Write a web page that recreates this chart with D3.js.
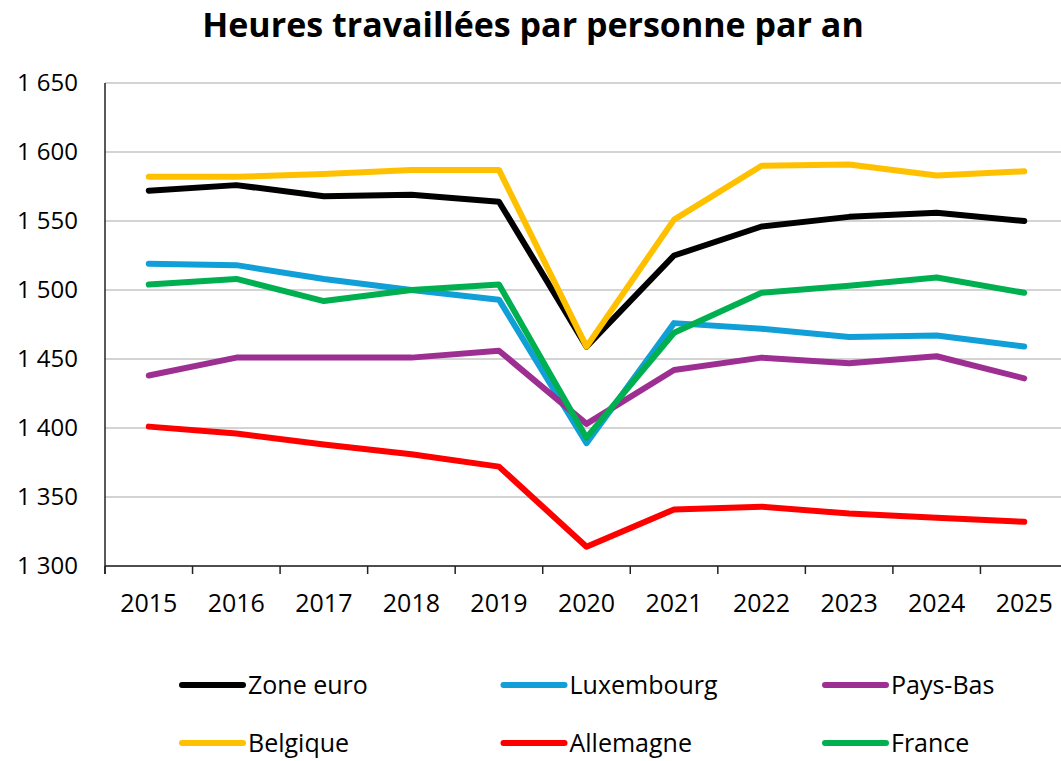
<!DOCTYPE html>
<html>
<head>
<meta charset="utf-8">
<script src="https://cdn.jsdelivr.net/npm/d3@7"></script>
<style>
  body { margin: 0; background: #fff; }
  svg { font-family: 'Open Sans', sans-serif; }
</style>
</head>
<body>
<svg></svg>
<script>
const years = ['2015', '2016', '2017', '2018', '2019', '2020', '2021', '2022', '2023', '2024', '2025'];
const yTicks = [1300, 1350, 1400, 1450, 1500, 1550, 1600, 1650];

const zoneEuro   = [1572, 1576, 1568, 1569, 1564, 1459, 1525, 1546, 1553, 1556, 1550];
const luxembourg = [1519, 1518, 1508, 1500, 1493, 1389, 1476, 1472, 1466, 1467, 1459];
const paysBas    = [1438, 1451, 1451, 1451, 1456, 1403, 1442, 1451, 1447, 1452, 1436];
const belgique   = [1582, 1582, 1584, 1587, 1587, 1459, 1551, 1590, 1591, 1583, 1586];
const allemagne  = [1401, 1396, 1388, 1381, 1372, 1314, 1341, 1343, 1338, 1335, 1332];
const france     = [1504, 1508, 1492, 1500, 1504, 1393, 1469, 1498, 1503, 1509, 1498];

const seriesNames = ['Zone euro', 'Luxembourg', 'Pays-Bas', 'Belgique', 'Allemagne', 'France'];
const seriesColors = ['#000000', '#119FD8', '#9E2F92', '#FFC000', '#FF0000', '#00B050'];
const seriesValues = [zoneEuro, luxembourg, paysBas, belgique, allemagne, france];

const width = 1061;
const height = 761;
const svg = d3.select('svg')
  .attr('width', width)
  .attr('height', height);

const x = d3.scaleBand()
  .domain(years)
  .range([105, 1068]);

const y = d3.scaleLinear()
  .domain([1300, 1650])
  .range([566, 83]);

// title
svg.append('text')
  .attr('x', 533)
  .attr('y', 37)
  .attr('text-anchor', 'middle')
  .attr('font-size', 34)
  .attr('font-weight', 'bold')
  .attr('fill', '#000')
  .text('Heures travaillées par personne par an');

// gridlines
svg.append('g')
  .selectAll('line')
  .data(yTicks)
  .enter().append('line')
  .attr('x1', 105)
  .attr('x2', width)
  .attr('y1', d => y(d))
  .attr('y2', d => y(d))
  .attr('stroke', '#C6C6C6')
  .attr('stroke-width', 1.5);

// y labels
const fmt = d => d3.format(',')(d).replace(',', ' ');
svg.append('g')
  .selectAll('text')
  .data(yTicks)
  .enter().append('text')
  .attr('x', 78)
  .attr('y', d => y(d))
  .attr('dy', '0.35em')
  .attr('text-anchor', 'end')
  .attr('font-size', 24)
  .attr('fill', '#000')
  .text(fmt);

// x axis
const xAxis = svg.append('g');
xAxis.append('line')
  .attr('x1', 105)
  .attr('x2', width)
  .attr('y1', y(1300))
  .attr('y2', y(1300))
  .attr('stroke', '#222')
  .attr('stroke-width', 1.5);

xAxis.selectAll('.tick')
  .data(years)
  .enter().append('line')
  .attr('x1', d => x(d))
  .attr('x2', d => x(d))
  .attr('y1', y(1300))
  .attr('y2', y(1300) + 8)
  .attr('stroke', '#222')
  .attr('stroke-width', 1.5);

xAxis.selectAll('text')
  .data(years)
  .enter().append('text')
  .attr('x', d => x(d) + x.bandwidth() / 2)
  .attr('y', 612)
  .attr('text-anchor', 'middle')
  .attr('font-size', 25)
  .attr('fill', '#000')
  .text(d => d);

// y axis line
svg.append('line')
  .attr('x1', 105)
  .attr('x2', 105)
  .attr('y1', y(1650))
  .attr('y2', y(1300) + 8)
  .attr('stroke', '#222')
  .attr('stroke-width', 1.5);

// lines
const line = d3.line()
  .x((d, i) => x(years[i]) + x.bandwidth() / 2)
  .y(d => y(d));

svg.append('g')
  .selectAll('path')
  .data(seriesValues)
  .enter().append('path')
  .attr('d', d => line(d))
  .attr('fill', 'none')
  .attr('stroke', (d, i) => seriesColors[i])
  .attr('stroke-width', 6)
  .attr('stroke-linecap', 'round')
  .attr('stroke-linejoin', 'round');

// legend
const legend = svg.append('g')
  .selectAll('g')
  .data(seriesNames)
  .enter().append('g')
  .attr('transform', (d, i) => `translate(${182 + (i % 3) * 321.5},${i < 3 ? 685 : 743})`);

legend.append('line')
  .attr('x1', 0)
  .attr('x2', 61)
  .attr('stroke', (d, i) => seriesColors[i])
  .attr('stroke-width', 6)
  .attr('stroke-linecap', 'round');

legend.append('text')
  .attr('x', 66)
  .attr('dy', '0.35em')
  .attr('font-size', 25)
  .attr('fill', '#000')
  .text(d => d);
</script>
</body>
</html>
